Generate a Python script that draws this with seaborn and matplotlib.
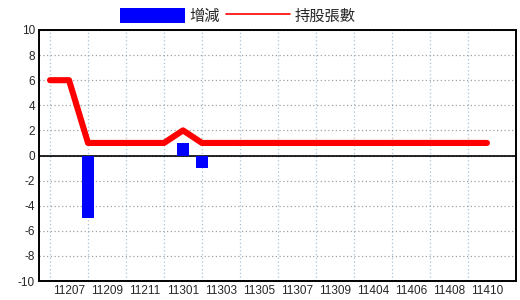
import matplotlib
matplotlib.use("Agg")
import matplotlib.pyplot as plt
import seaborn as sns
import pandas as pd
import numpy as np
from matplotlib.patches import Patch
from matplotlib.lines import Line2D

months = ["11206", "11207", "11208", "11209", "11210", "11211", "11212", "11301",
          "11302", "11303", "11304", "11305", "11306", "11307", "11308", "11309",
          "11401", "11404", "11405", "11406", "11407", "11408", "11409", "11410"]
change = [0, 0, -5, 0, 0, 0, 0, 1, -1, 0, 0, 0, 0, 0, 0, 0, 0, 0, 0, 0, 0, 0, 0, 0]
holding = [6, 6, 1, 1, 1, 1, 1, 2, 1, 1, 1, 1, 1, 1, 1, 1, 1, 1, 1, 1, 1, 1, 1, 1]
yticks = list(range(-10, 11, 2))

sns.set_style("white")
plt.rcParams['font.family'] = ['Liberation Sans', 'Noto Sans CJK TC', 'DejaVu Sans']

df = pd.DataFrame({"month": months, "change": change, "holding": holding,
                   "pos": np.arange(len(months))})

fig = plt.figure(figsize=(5.2, 3.0), dpi=100)
ax = fig.add_axes([39/520, (300-281)/300, (516-39)/520, (281-30)/300])

sns.barplot(data=df, x="month", y="change", order=months, color="#0000ff",
            saturation=1, width=0.63, ax=ax, zorder=3, edgecolor="none", linewidth=0)
sns.lineplot(data=df, x="pos", y="holding", color="#ff0000", linewidth=4.4,
             ax=ax, zorder=4)

ax.set_xlim(-0.58, 24.53)
ax.set_ylim(-10, 10)
ax.set_yticks(yticks)
ax.set_yticklabels([str(v) for v in yticks], fontsize=8.5)
odd = list(range(1, len(months), 2))
ax.set_xticks(odd)
ax.set_xticklabels([months[i] for i in odd], fontsize=8.5)
ax.set_xticks(list(range(0, len(months), 2)), minor=True)
ax.tick_params(axis="both", which="both", length=0, pad=3)
ax.set_xlabel("")
ax.set_ylabel("")

ax.grid(False)
ax.yaxis.grid(True, color="#a0a0a0", linestyle=(0, (1, 2)), linewidth=0.9, zorder=0)
ax.xaxis.grid(True, which="minor", color="#a8c4d8", linestyle=(0, (1, 2)), linewidth=0.9, zorder=0)
ax.set_axisbelow(True)
ax.axhline(0, color="black", linewidth=1.2, zorder=2)

for s in ax.spines.values():
    s.set_visible(True)
    s.set_color("black")
    s.set_linewidth(1.4)

handles = [Patch(facecolor="#0000ff", edgecolor="none"),
           Line2D([0], [0], color="#ff0000", linewidth=1.2)]
fig.legend(handles, ["增減", "持股張數"], loc="center", bbox_to_anchor=(238/520, 1 - 16/300),
           ncol=2, frameon=False, handlelength=4.2, handleheight=1.1,
           handletextpad=0.3, columnspacing=0.4, borderaxespad=0, borderpad=0,
           prop={"family": ["Noto Sans CJK TC", "DejaVu Sans"], "size": 11})

fig.savefig("out.png", dpi=100)
